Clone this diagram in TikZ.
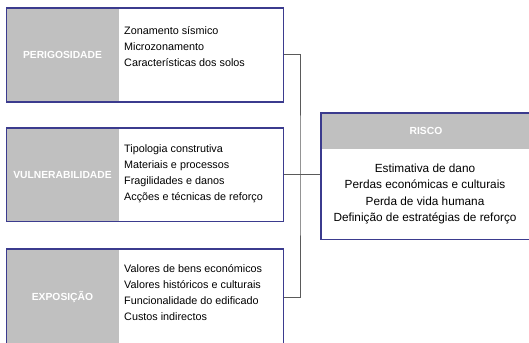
\documentclass[tikz,border=0pt]{standalone}
\usepackage{fontspec}
\setmainfont{Liberation Sans}
\usepackage{tikz}
\usetikzlibrary{positioning, calc}
\definecolor{framenavy}{HTML}{3B3B8E}
\definecolor{cellgray}{HTML}{C0C0C0}
\definecolor{linkgray}{HTML}{5A5A5A}

\begin{document}
\begin{tikzpicture}[
    x=1pt, y=-1pt,
    frame/.style={
        draw=framenavy,
        line width=1.1pt,
        inner sep=0pt
    },
    cell/.style={
        fill=cellgray,
        inner sep=0pt,
        text=white,
        font=\bfseries\fontsize{10.3}{12}\selectfont
    },
    items/.style={
        align=left,
        anchor=west,
        inner sep=0pt,
        font=\fontsize{10.8}{16}\selectfont
    },
    link/.style={
        draw=linkgray,
        line width=1pt
    }
]
\useasboundingbox (0,0) rectangle (529,342);

% Gray label cells
\node[cell, minimum width=112pt, minimum height=94pt] (peri) at (62.5,55) {PERIGOSIDADE};
\node[cell, minimum width=112pt, minimum height=93.5pt] (vuln) at (62.5,174.75) {VULNERABILIDADE};
\node[cell, minimum width=112pt, minimum height=96pt] (expo) at (62.5,297) {EXPOSIÇÃO};
\node[cell, minimum width=210pt, minimum height=36pt] (risco) at (426,131) {RISCO};

% Item lists
\node[items] (perilist) at (124,47) {
    Zonamento sísmico\\
    Microzonamento\\
    Características dos solos
};

\node[items] (vulnlist) at (124,174) {
    Tipologia construtiva\\
    Materiais e processos\\
    Fragilidades e danos\\
    Acções e técnicas de reforço
};

\node[items] (expolist) at (124,293) {
    Valores de bens económicos\\
    Valores históricos e culturais\\
    Funcionalidade do edificado\\
    Custos indirectos
};

\node[items, align=center, anchor=center, font=\fontsize{11.8}{16.5}\selectfont] (riscolist) at (425,194) {
    Estimativa de dano\\
    Perdas económicas e culturais\\
    Perda de vida humana\\
    Definição de estratégias de reforço
};

% Frames
\node[frame, minimum width=277pt, minimum height=94pt] (periBox) at (145,55) {};
\node[frame, minimum width=277pt, minimum height=93.5pt] (vulnBox) at (145,174.75) {};
\node[frame, minimum width=277pt, minimum height=96pt] (expoBox) at (145,297) {};
\node[frame, minimum width=210pt, minimum height=126.5pt] (riscoBox) at (426,176.25) {};

% Connectors
\coordinate (bus) at (300,175);
\draw[link] (periBox.east) -| (bus) |- (expoBox.east);
\draw[link] (vulnBox.east) -- (vulnBox.east -| riscoBox.west);

\end{tikzpicture}
\end{document}
